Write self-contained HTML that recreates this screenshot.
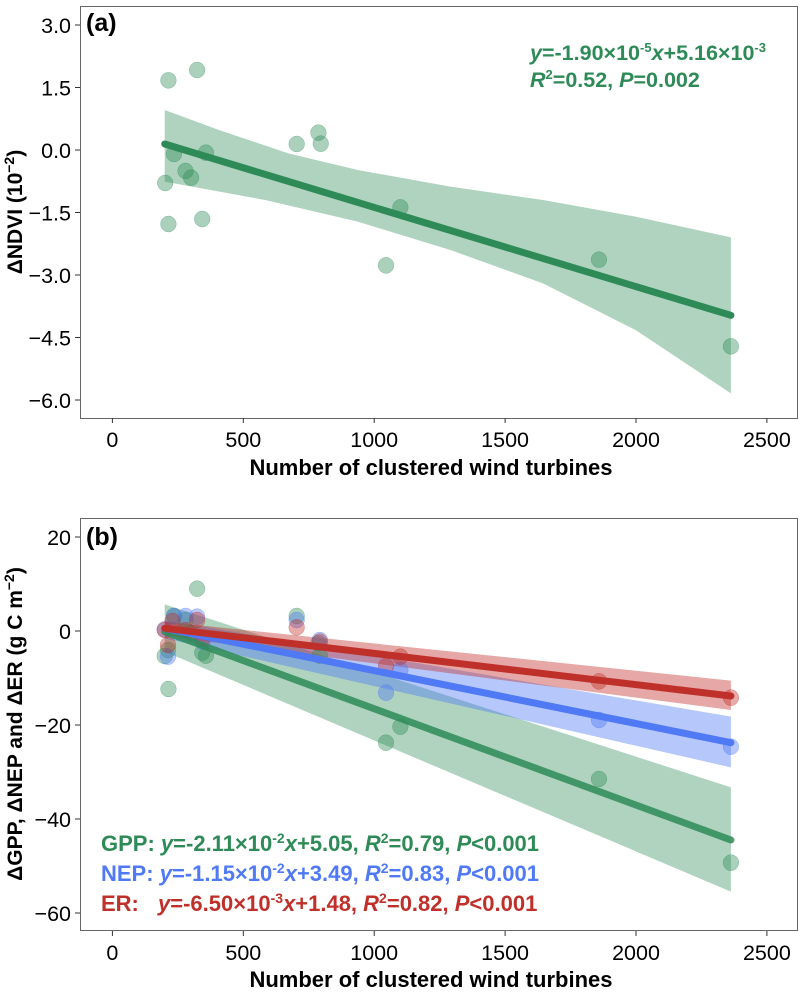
<!DOCTYPE html>
<html><head><meta charset="utf-8"><style>
body{margin:0;background:#fff}
svg{display:block;font-family:"Liberation Sans",Arial,sans-serif}
</style></head><body>
<svg width="800" height="995" viewBox="0 0 800 995" xmlns="http://www.w3.org/2000/svg">
<!-- Panel a -->
<g transform="translate(80,0) scale(0.46296,0.33333)">
  <path d="M183,330 L300,390 L450,460 L600,510 L800,560 L1000,600 L1200,650 L1406,712 L1406,1180 L1200,990 L1000,850 L800,750 L600,665 L400,600 L183,545 Z" fill="#2e8b57" fill-opacity="0.38"/>
  <g fill="#2e8b57" fill-opacity="0.4" stroke="#2e8b57" stroke-opacity="0.6" stroke-width="1" vector-effect="non-scaling-stroke">
    <ellipse cx="191" cy="241" rx="17" ry="24"/><ellipse cx="253" cy="210" rx="17" ry="24"/>
    <ellipse cx="203" cy="462" rx="17" ry="24"/><ellipse cx="272" cy="458" rx="17" ry="24"/>
    <ellipse cx="228" cy="513" rx="17" ry="24"/><ellipse cx="240" cy="533" rx="17" ry="24"/>
    <ellipse cx="184" cy="549" rx="17" ry="24"/><ellipse cx="191" cy="672" rx="17" ry="24"/>
    <ellipse cx="264" cy="657" rx="17" ry="24"/><ellipse cx="468" cy="432" rx="17" ry="24"/>
    <ellipse cx="515" cy="398" rx="17" ry="24"/><ellipse cx="520" cy="431" rx="17" ry="24"/>
    <ellipse cx="692" cy="622" rx="17" ry="24"/><ellipse cx="661" cy="796" rx="17" ry="24"/>
    <ellipse cx="1121" cy="779" rx="17" ry="24"/><ellipse cx="1406" cy="1039" rx="17" ry="24"/>
  </g>
  <line x1="183" y1="432" x2="1406" y2="946" stroke="#2e8b57" stroke-width="7" stroke-linecap="round" vector-effect="non-scaling-stroke"/>
</g>
<rect x="80.5" y="6.5" width="717" height="412" fill="none" stroke="#666" stroke-width="1"/>
<g stroke="#333" stroke-width="1">
  <line x1="112.4" y1="418" x2="112.4" y2="423"/><line x1="243.3" y1="418" x2="243.3" y2="423"/><line x1="374.2" y1="418" x2="374.2" y2="423"/><line x1="505.1" y1="418" x2="505.1" y2="423"/><line x1="636" y1="418" x2="636" y2="423"/><line x1="766.9" y1="418" x2="766.9" y2="423"/>
  <line x1="75" y1="25" x2="80" y2="25"/><line x1="75" y1="87.5" x2="80" y2="87.5"/><line x1="75" y1="150" x2="80" y2="150"/><line x1="75" y1="212.5" x2="80" y2="212.5"/><line x1="75" y1="275" x2="80" y2="275"/><line x1="75" y1="337.5" x2="80" y2="337.5"/><line x1="75" y1="400" x2="80" y2="400"/>
</g>
<g font-size="21.5" fill="#000" text-anchor="middle">
  <text x="112.4" y="447">0</text><text x="243.3" y="447">500</text><text x="374.2" y="447">1000</text><text x="505.1" y="447">1500</text><text x="636" y="447">2000</text><text x="766.9" y="447">2500</text>
</g>
<g font-size="21.5" fill="#000" text-anchor="end">
  <text x="71" y="33">3.0</text><text x="71" y="95.5">1.5</text><text x="71" y="158">0.0</text><text x="71" y="220.5">−1.5</text><text x="71" y="283">−3.0</text><text x="71" y="345.5">−4.5</text><text x="71" y="408">−6.0</text>
</g>
<text x="431" y="475" font-size="22" font-weight="bold" text-anchor="middle">Number of clustered wind turbines</text>
<text transform="translate(22,212) rotate(-90)" font-size="21" font-weight="bold" text-anchor="middle">ΔNDVI (10<tspan font-size="14" dy="-8">−2</tspan><tspan dy="8">)</tspan></text>
<text x="86" y="31" font-size="25" font-weight="bold">(a)</text>
<g fill="#2e8b57" font-size="21.5" font-weight="bold">
  <text x="530" y="60"><tspan font-style="italic">y</tspan>=-1.90×10<tspan font-size="13" dy="-8">-5</tspan><tspan font-style="italic" dy="8">x</tspan>+5.16×10<tspan font-size="13" dy="-8">-3</tspan></text>
  <text x="530" y="87"><tspan font-style="italic">R</tspan><tspan font-size="13" dy="-8">2</tspan><tspan dy="8">=0.52, </tspan><tspan font-style="italic">P</tspan>=0.002</text>
</g>

<!-- Panel b -->
<g transform="translate(80,510) scale(0.46296,0.33333)">
  <path d="M183,283 L1406,832 L1406,1145 L183,425 Z" fill="#2e8b57" fill-opacity="0.38"/>
  <path d="M183,330 L1406,620 L1406,772 L183,385 Z" fill="#4f79f5" fill-opacity="0.42"/>
  <path d="M183,335 L1406,512 L1406,600 L183,378 Z" fill="#c0302b" fill-opacity="0.42"/>
  <g fill="#2e8b57" fill-opacity="0.4" stroke="#2e8b57" stroke-opacity="0.6" vector-effect="non-scaling-stroke">
    <ellipse cx="253" cy="236" rx="17" ry="24"/><ellipse cx="468" cy="318" rx="17" ry="24"/><ellipse cx="191" cy="537" rx="17" ry="24"/><ellipse cx="661" cy="698" rx="17" ry="24"/><ellipse cx="692" cy="650" rx="17" ry="24"/><ellipse cx="1121" cy="807" rx="17" ry="24"/><ellipse cx="1406" cy="1058" rx="17" ry="24"/><ellipse cx="183" cy="438" rx="17" ry="24"/><ellipse cx="264" cy="428" rx="17" ry="24"/><ellipse cx="272" cy="437" rx="17" ry="24"/><ellipse cx="518" cy="437" rx="17" ry="24"/><ellipse cx="203" cy="318" rx="17" ry="24"/><ellipse cx="228" cy="330" rx="17" ry="24"/><ellipse cx="240" cy="370" rx="17" ry="24"/><ellipse cx="515" cy="400" rx="17" ry="24"/><ellipse cx="190" cy="420" rx="17" ry="24"/>
  </g>
  <g fill="#4f79f5" fill-opacity="0.4" stroke="#4f79f5" stroke-opacity="0.6" vector-effect="non-scaling-stroke">
    <ellipse cx="661" cy="548" rx="17" ry="24"/><ellipse cx="692" cy="480" rx="17" ry="24"/><ellipse cx="1121" cy="630" rx="17" ry="24"/><ellipse cx="1406" cy="710" rx="17" ry="24"/><ellipse cx="518" cy="390" rx="17" ry="24"/><ellipse cx="468" cy="330" rx="17" ry="24"/><ellipse cx="190" cy="440" rx="17" ry="24"/><ellipse cx="228" cy="318" rx="17" ry="24"/><ellipse cx="253" cy="320" rx="17" ry="24"/><ellipse cx="203" cy="318" rx="17" ry="24"/><ellipse cx="183" cy="358" rx="17" ry="24"/><ellipse cx="265" cy="395" rx="17" ry="24"/>
  </g>
  <g fill="#c0302b" fill-opacity="0.4" stroke="#c0302b" stroke-opacity="0.6" vector-effect="non-scaling-stroke">
    <ellipse cx="692" cy="440" rx="17" ry="24"/><ellipse cx="661" cy="468" rx="17" ry="24"/><ellipse cx="1121" cy="514" rx="17" ry="24"/><ellipse cx="1406" cy="563" rx="17" ry="24"/><ellipse cx="518" cy="395" rx="17" ry="24"/><ellipse cx="468" cy="352" rx="17" ry="24"/><ellipse cx="190" cy="405" rx="17" ry="24"/><ellipse cx="200" cy="333" rx="17" ry="24"/><ellipse cx="253" cy="330" rx="17" ry="24"/><ellipse cx="183" cy="360" rx="17" ry="24"/><ellipse cx="265" cy="385" rx="17" ry="24"/><ellipse cx="228" cy="360" rx="17" ry="24"/>
  </g>
  <line x1="183" y1="365" x2="1406" y2="990" stroke="#2e8b57" stroke-opacity="0.85" stroke-width="7" stroke-linecap="round" vector-effect="non-scaling-stroke"/>
  <line x1="183" y1="355" x2="1406" y2="698" stroke="#4f79f5" stroke-width="7" stroke-linecap="round" vector-effect="non-scaling-stroke"/>
  <line x1="183" y1="355" x2="1406" y2="558" stroke="#c0302b" stroke-width="7" stroke-linecap="round" vector-effect="non-scaling-stroke"/>
</g>
<rect x="80.5" y="518.5" width="717" height="412" fill="none" stroke="#666" stroke-width="1"/>
<g stroke="#333" stroke-width="1">
  <line x1="112.4" y1="931" x2="112.4" y2="936"/><line x1="243.3" y1="931" x2="243.3" y2="936"/><line x1="374.2" y1="931" x2="374.2" y2="936"/><line x1="505.1" y1="931" x2="505.1" y2="936"/><line x1="636" y1="931" x2="636" y2="936"/><line x1="766.9" y1="931" x2="766.9" y2="936"/>
  <line x1="75" y1="537" x2="80" y2="537"/><line x1="75" y1="631" x2="80" y2="631"/><line x1="75" y1="725" x2="80" y2="725"/><line x1="75" y1="819" x2="80" y2="819"/><line x1="75" y1="913" x2="80" y2="913"/>
</g>
<g font-size="21.5" fill="#000" text-anchor="middle">
  <text x="112.4" y="960">0</text><text x="243.3" y="960">500</text><text x="374.2" y="960">1000</text><text x="505.1" y="960">1500</text><text x="636" y="960">2000</text><text x="766.9" y="960">2500</text>
</g>
<g font-size="21.5" fill="#000" text-anchor="end">
  <text x="71" y="545">20</text><text x="71" y="639">0</text><text x="71" y="733">−20</text><text x="71" y="827">−40</text><text x="71" y="921">−60</text>
</g>
<text x="431" y="987" font-size="22" font-weight="bold" text-anchor="middle">Number of clustered wind turbines</text>
<text transform="translate(22,724) rotate(-90)" font-size="21" font-weight="bold" text-anchor="middle">ΔGPP, ΔNEP and ΔER (g C m<tspan font-size="14" dy="-8">−2</tspan><tspan dy="8">)</tspan></text>
<text x="86" y="545" font-size="25" font-weight="bold">(b)</text>
<g font-size="22" font-weight="bold">
  <text x="101" y="851" fill="#2e8b57">GPP: <tspan font-style="italic">y</tspan>=-2.11×10<tspan font-size="14" dy="-8">-2</tspan><tspan font-style="italic" dy="8">x</tspan>+5.05, <tspan font-style="italic">R</tspan><tspan font-size="14" dy="-8">2</tspan><tspan dy="8">=0.79, </tspan><tspan font-style="italic">P</tspan>&lt;0.001</text>
  <text x="101" y="881" fill="#4f79f5">NEP: <tspan font-style="italic">y</tspan>=-1.15×10<tspan font-size="14" dy="-8">-2</tspan><tspan font-style="italic" dy="8">x</tspan>+3.49, <tspan font-style="italic">R</tspan><tspan font-size="14" dy="-8">2</tspan><tspan dy="8">=0.83, </tspan><tspan font-style="italic">P</tspan>&lt;0.001</text>
  <text x="101" y="911" fill="#c0302b">ER:<tspan x="158" font-style="italic">y</tspan>=-6.50×10<tspan font-size="14" dy="-8">-3</tspan><tspan font-style="italic" dy="8">x</tspan>+1.48, <tspan font-style="italic">R</tspan><tspan font-size="14" dy="-8">2</tspan><tspan dy="8">=0.82, </tspan><tspan font-style="italic">P</tspan>&lt;0.001</text>
</g>
</svg>
</body></html>
